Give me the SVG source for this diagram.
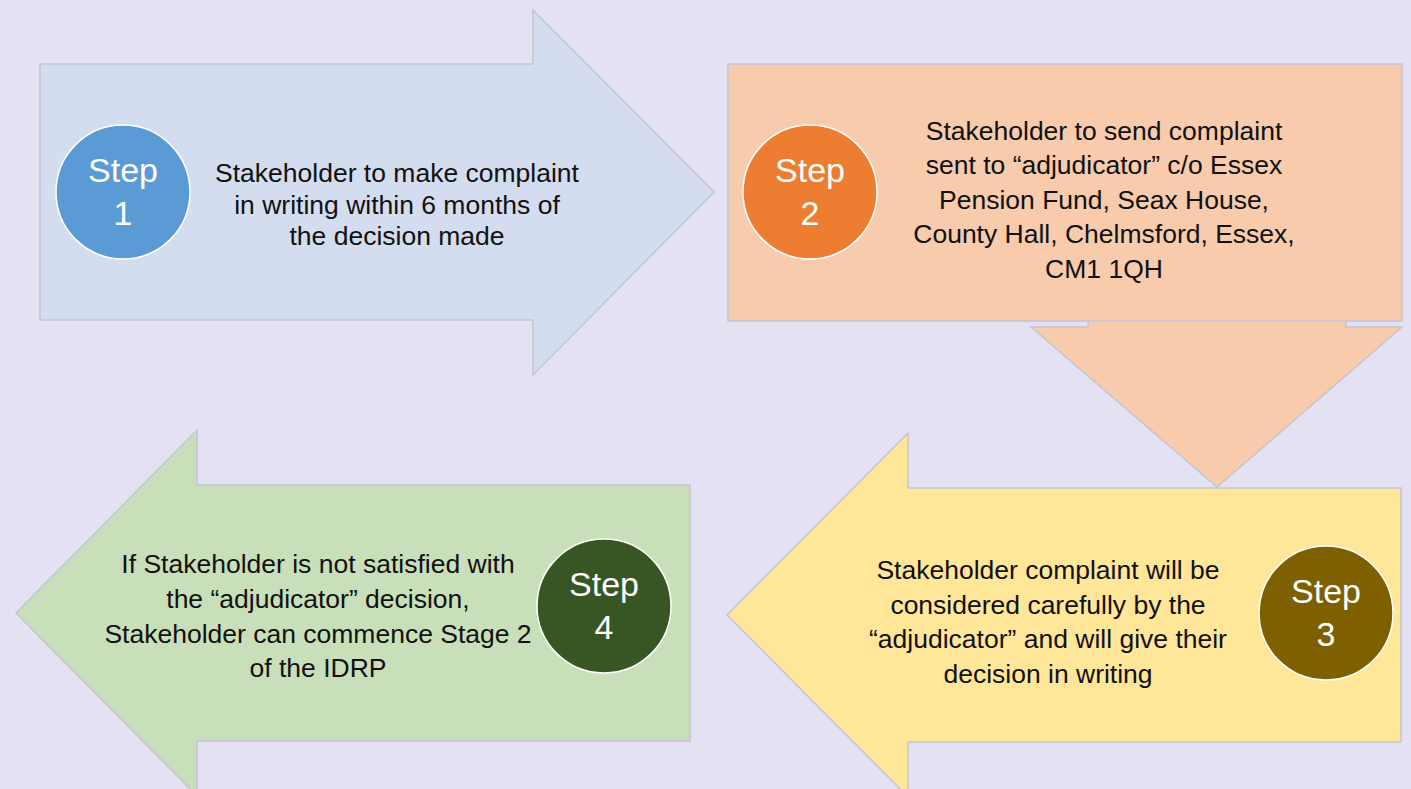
<svg xmlns="http://www.w3.org/2000/svg" width="1411" height="789" viewBox="0 0 1411 789">
<style>
.shape{stroke:#c3c5d3;stroke-width:1.5;}
.badge{stroke:#ffffff;stroke-width:1.5;}
.t{font-family:"Liberation Sans",Arial,sans-serif;font-size:26.5px;fill:#111111;text-anchor:middle;}
.s{font-family:"Liberation Sans",Arial,sans-serif;font-size:34px;fill:#ffffff;text-anchor:middle;}
</style>
<rect width="1411" height="789" fill="#e4e2f2"/>
<g id="connectors"/>
<g id="step1">
<path class="shape" fill="#d3ddef" d="M40,64 L533,64 L533,10 L714,192 L533,375 L533,320 L40,320 Z"/>
<circle class="badge" cx="123" cy="192" r="67" fill="#5b9bd5"/>
<text class="s" x="123" y="182">Step</text>
<text class="s" x="123" y="225">1</text>
<text class="t" x="397" y="182">Stakeholder to make complaint</text>
<text class="t" x="397" y="213.5">in writing within 6 months of</text>
<text class="t" x="397" y="245">the decision made</text>
</g>
<g id="step2">
<path class="shape" fill="#f8cbad" d="M1088,300 L1346,300 L1346,327 L1402,327 L1217,487 L1031,327 L1088,327 Z"/>
<rect class="shape" x="728" y="64" width="674" height="257" fill="#f8cbad"/>
<circle class="badge" cx="810" cy="192" r="67" fill="#ed7d31"/>
<text class="s" x="810" y="182">Step</text>
<text class="s" x="810" y="225">2</text>
<text class="t" x="1104" y="140">Stakeholder to send complaint</text>
<text class="t" x="1104" y="174">sent to “adjudicator” c/o Essex</text>
<text class="t" x="1104" y="209">Pension Fund, Seax House,</text>
<text class="t" x="1104" y="243">County Hall, Chelmsford, Essex,</text>
<text class="t" x="1104" y="278">CM1 1QH</text>
</g>
<g id="step3">
<path class="shape" fill="#ffe699" d="M1401,488 L1401,742 L908,742 L908,797 L727,615 L908,433 L908,488 Z"/>
<circle class="badge" cx="1326" cy="613" r="67" fill="#7f6000"/>
<text class="s" x="1326" y="603">Step</text>
<text class="s" x="1326" y="646">3</text>
<text class="t" x="1048" y="579">Stakeholder complaint will be</text>
<text class="t" x="1048" y="614">considered carefully by the</text>
<text class="t" x="1048" y="648">“adjudicator” and will give their</text>
<text class="t" x="1048" y="683">decision in writing</text>
</g>
<g id="step4">
<path class="shape" fill="#c9dfb9" d="M690,485 L690,741 L197,741 L197,796 L16,613 L197,430 L197,485 Z"/>
<circle class="badge" cx="604" cy="606" r="67" fill="#375623"/>
<text class="s" x="604" y="596">Step</text>
<text class="s" x="604" y="639">4</text>
<text class="t" x="318" y="573">If Stakeholder is not satisfied with</text>
<text class="t" x="318" y="608">the “adjudicator” decision,</text>
<text class="t" x="318" y="643">Stakeholder can commence Stage 2</text>
<text class="t" x="318" y="677">of the IDRP</text>
</g>
</svg>
